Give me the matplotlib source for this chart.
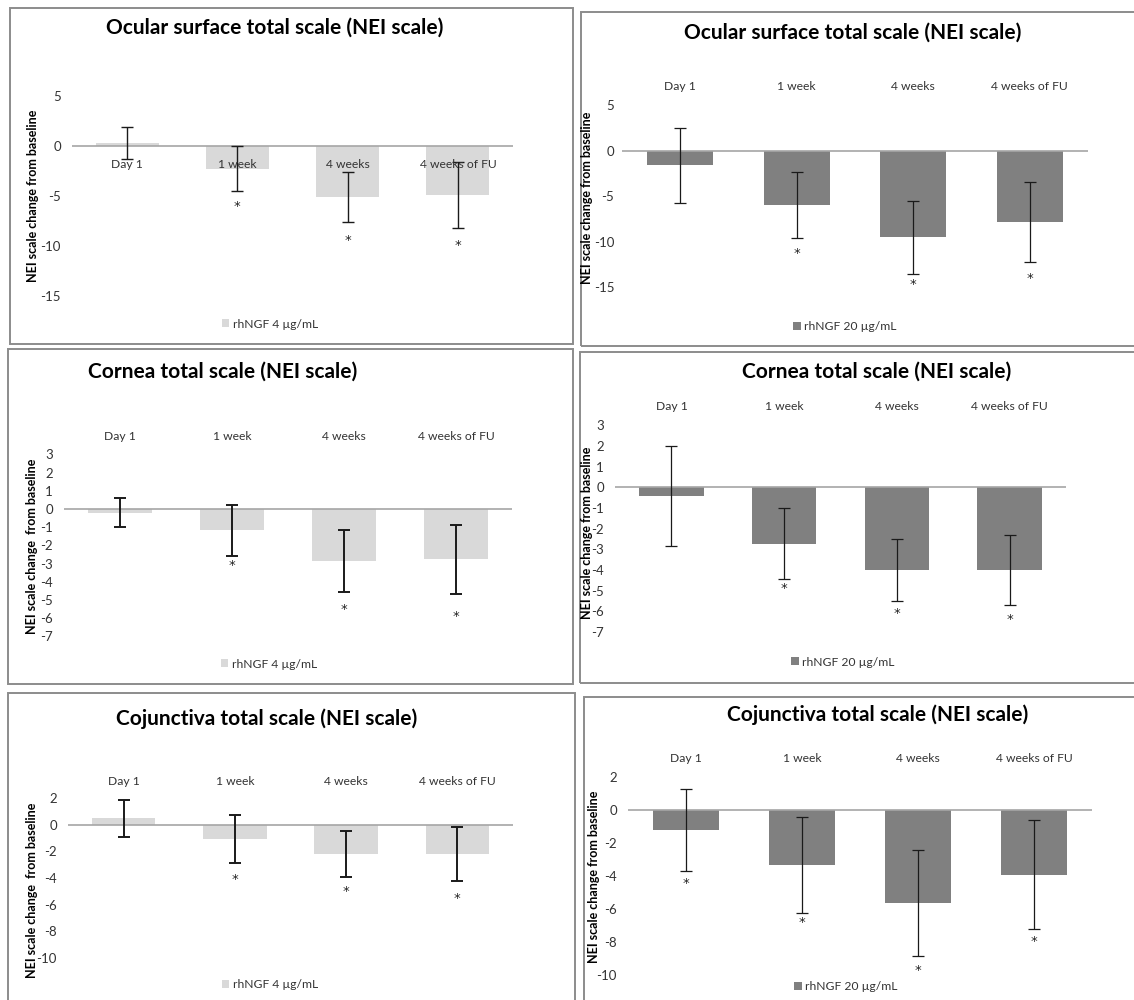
import numpy as np
import matplotlib.pyplot as plt
from matplotlib.patches import Rectangle

plt.rcParams['font.family'] = ['Lato', 'DejaVu Sans']
plt.rcParams['axes.unicode_minus'] = False

W, H = 1134, 1000

cats = ['Day 1', '1 week', '4 weeks', '4 weeks of FU']
label_4 = 'rhNGF 4 µg/mL'
label_20 = 'rhNGF 20 µg/mL'

# ocular surface
ocular_4_mean = [0.3, -2.25, -5.1, -4.9]
ocular_4_err = [1.6, 2.25, 2.5, 3.3]
ocular_4_star = [np.nan, -5.8, -9.2, -9.7]
ocular_20_mean = [-1.6, -5.95, -9.5, -7.8]
ocular_20_err = [4.1, 3.65, 4.0, 4.4]
ocular_20_star = [np.nan, -11.1, -14.5, -13.8]

# cornea
cornea_4_mean = [-0.2, -1.18, -2.86, -2.77]
cornea_4_err = [0.81, 1.4, 1.69, 1.89]
cornea_4_star = [np.nan, -3.0, -5.4, -5.8]
cornea_20_mean = [-0.4, -2.73, -4.0, -4.0]
cornea_20_err = [2.42, 1.71, 1.52, 1.71]
cornea_20_star = [np.nan, -4.8, -6.0, -6.3]

# conjunctiva
conj_4_mean = [0.48, -1.1, -2.2, -2.2]
conj_4_err = [1.38, 1.8, 1.75, 2.0]
conj_4_star = [np.nan, -3.95, -4.9, -5.36]
conj_20_mean = [-1.2, -3.3, -5.6, -3.9]
conj_20_err = [2.48, 2.9, 3.2, 3.3]
conj_20_star = [-4.33, -6.7, -9.6, -7.8]

t_ocular = 'Ocular surface total scale (NEI scale)'
t_cornea = 'Cornea total scale (NEI scale)'
t_conj = 'Cojunctiva total scale (NEI scale)'
ylab = 'NEI scale change from baseline'
ylab2 = 'NEI scale change  from baseline'

light = '#D9D9D9'
dark = '#808080'

# layout in pixels (x from left, y from top)
panels = [
    dict(mean=ocular_4_mean, err=ocular_4_err, star=ocular_4_star, color=light, leg=label_4,
         title=t_ocular, ylabel=ylab, box=(10, 8, 573, 344), x0=72, x1=513, y0=146, ppu=10.0,
         lim=(-17, 6), ticks=np.arange(5, -16, -5), tpos=(275, 28), cat_off=-18,
         ylpos=(33, 196), legpos=(270, 324), elw=1.0, pad=8),
    dict(mean=ocular_20_mean, err=ocular_20_err, star=ocular_20_star, color=dark, leg=label_20,
         title=t_ocular, ylabel=ylab, box=(581, 12, 1140, 346), x0=622, x1=1088, y0=150.7, ppu=9.1,
         lim=(-17, 6), ticks=np.arange(5, -16, -5), tpos=(853, 33), cat_off=63.7,
         ylpos=(587, 198), legpos=(845, 327), elw=0.9, pad=5.5),
    dict(mean=cornea_4_mean, err=cornea_4_err, star=cornea_4_star, color=light, leg=label_4,
         title=t_cornea, ylabel=ylab2, box=(8, 349, 573, 684), x0=64, x1=512, y0=509, ppu=18.2,
         lim=(-7.5, 3.5), ticks=np.arange(3, -8, -1), tpos=(223, 372), cat_off=72,
         ylpos=(32, 546), legpos=(269, 664), elw=1.4, pad=8),
    dict(mean=cornea_20_mean, err=cornea_20_err, star=cornea_20_star, color=dark, leg=label_20,
         title=t_cornea, ylabel=ylab, box=(580, 352, 1140, 683), x0=615, x1=1066, y0=487.3, ppu=20.65,
         lim=(-7.5, 3.5), ticks=np.arange(3, -8, -1), tpos=(877, 372), cat_off=80.3,
         ylpos=(587, 533), legpos=(843, 662), elw=0.9, pad=8),
    dict(mean=conj_4_mean, err=conj_4_err, star=conj_4_star, color=light, leg=label_4,
         title=t_conj, ylabel=ylab2, box=(8, 693, 575, 1010), x0=68, x1=513, y0=824.7, ppu=13.3,
         lim=(-11, 2.5), ticks=np.arange(2, -11, -2), tpos=(267, 719), cat_off=43,
         ylpos=(32, 890), legpos=(270, 985), elw=1.4, pad=8),
    dict(mean=conj_20_mean, err=conj_20_err, star=conj_20_star, color=dark, leg=label_20,
         title=t_conj, ylabel=ylab, box=(584, 697, 1140, 1010), x0=628, x1=1092, y0=810.3, ppu=16.5,
         lim=(-11, 2.5), ticks=np.arange(2, -11, -2), tpos=(878, 715), cat_off=51.3,
         ylpos=(594, 877), legpos=(846, 987), elw=0.9, pad=8),
]

fig = plt.figure(figsize=(W / 100, H / 100), dpi=100)

for p in panels:
    l, t, r, b = p['box']
    fig.add_artist(Rectangle((l / W, 1 - b / H), (r - l) / W, (b - t) / H, transform=fig.transFigure,
                             fill=False, edgecolor='#8c8c8c', linewidth=1.4))

    lo, hi = p['lim']
    ax_top = p['y0'] - hi * p['ppu']
    ax_bot = p['y0'] - lo * p['ppu']
    ax = fig.add_axes([p['x0'] / W, 1 - ax_bot / H, (p['x1'] - p['x0']) / W, (ax_bot - ax_top) / H])
    ax.set_facecolor('none')
    x = np.arange(len(cats))
    bars = ax.bar(x, p['mean'], width=0.57, color=p['color'], zorder=2, label=p['leg'])
    ax.axhline(0, color='#A6A6A6', linewidth=1.2, zorder=3)
    ax.errorbar(x, p['mean'], yerr=p['err'], fmt='none', ecolor='#1a1a1a', elinewidth=p['elw'],
                capsize=4.5, capthick=p['elw'], zorder=4)
    # significance markers
    for i, s in enumerate(p['star']):
        if not np.isnan(s):
            ax.annotate('*', xy=(i, s), xytext=(0, -1.5), textcoords='offset points',
                        ha='center', va='center', fontsize=9.5, family='DejaVu Sans',
                        color='#222222', zorder=5)
    for i, c in enumerate(cats):
        ax.annotate(c, xy=(i, 0), xytext=(0, p['cat_off'] * 0.72), textcoords='offset points',
                    ha='center', va='center', fontsize=8.7, color='#333333', zorder=6)
    ax.set_xlim(-0.5, len(cats) - 0.5)
    ax.set_ylim(lo, hi)
    ax.set_xticks([])
    ax.set_yticks(p['ticks'])
    ax.set_yticklabels([str(v) for v in p['ticks']])
    ax.tick_params(axis='y', length=0, pad=p['pad'], labelsize=9.5, labelcolor='#333333')
    for sp in ax.spines.values():
        sp.set_visible(False)

    fig.text(p['tpos'][0] / W, 1 - p['tpos'][1] / H, p['title'], ha='center', va='center',
             fontsize=15, fontweight='bold')
    fig.text(p['ylpos'][0] / W, 1 - p['ylpos'][1] / H, p['ylabel'], ha='center', va='center',
             rotation=90, fontsize=9, fontweight='bold')
    ax.legend(handles=[bars], labels=[p['leg']], loc='center',
              bbox_to_anchor=(p['legpos'][0] / W, 1 - p['legpos'][1] / H), bbox_transform=fig.transFigure,
              frameon=False, handlelength=0.6, handleheight=0.6, handletextpad=0.3, fontsize=8.7,
              labelcolor='#333333')

fig.savefig('out.png', dpi=100, facecolor='white')
